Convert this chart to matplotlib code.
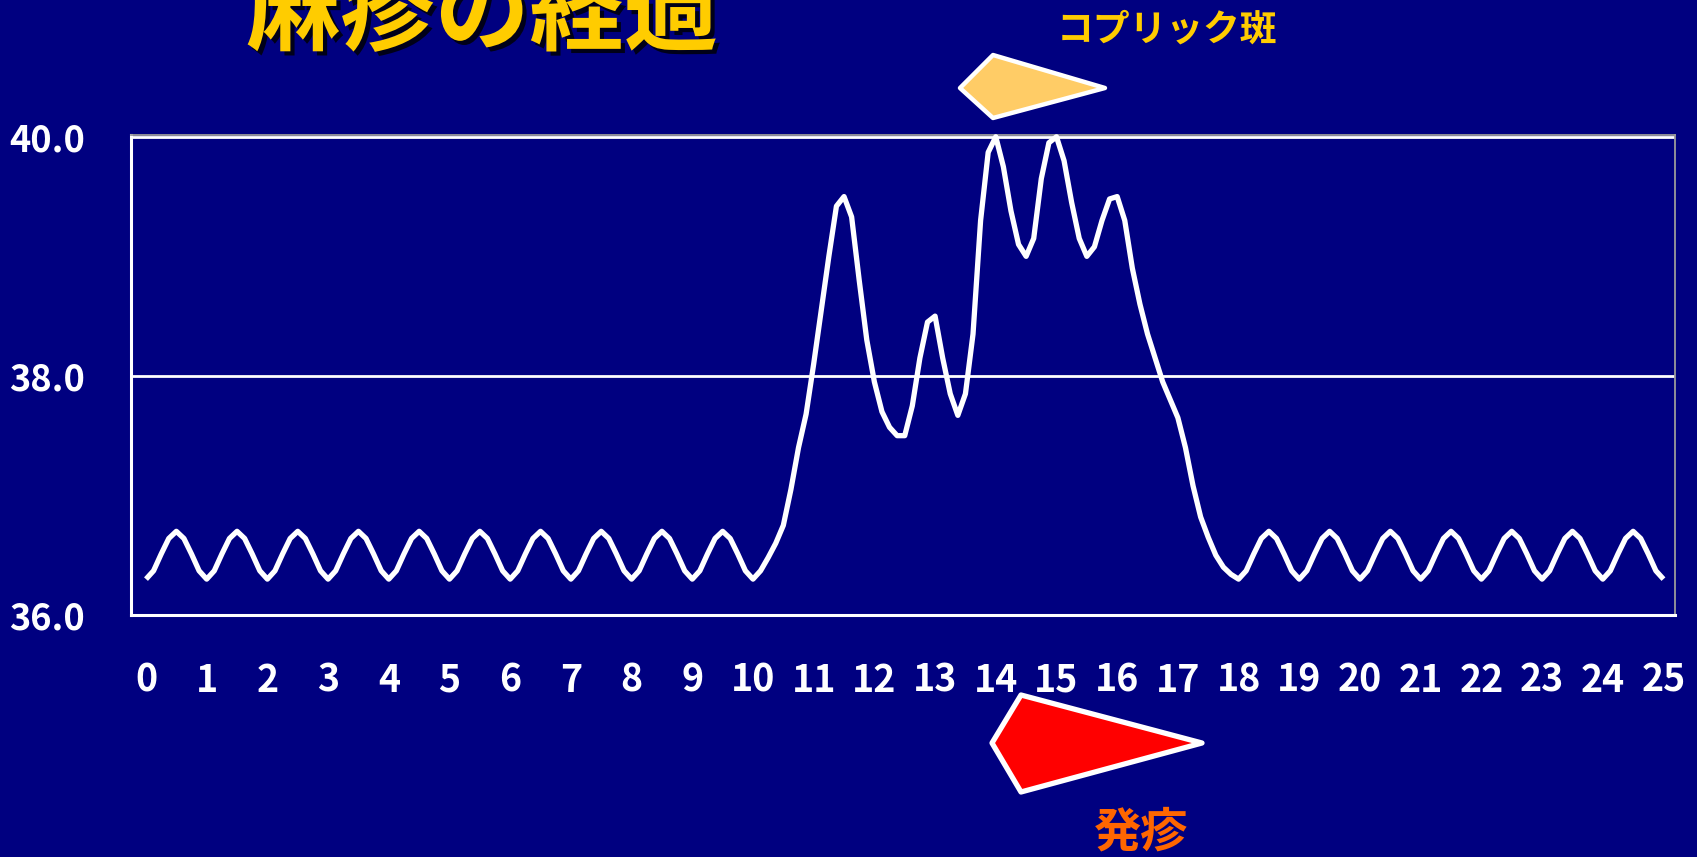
import matplotlib
matplotlib.use('Agg')
import matplotlib.pyplot as plt
import matplotlib.patheffects as pe
from matplotlib.patches import Polygon
from matplotlib.transforms import Affine2D
import numpy as np

plt.rcParams['font.family'] = ['Noto Sans CJK JP', 'DejaVu Sans']

W, H = 1697, 857
NAVY = '#000080'

# 体温の推移: 1日8回 (3時間ごと) の測定値, 0日目〜24日目
TEMPS_BY_DAY = [
    [36.30, 36.37, 36.51, 36.64, 36.70, 36.64, 36.51, 36.37],  # 0
    [36.30, 36.37, 36.51, 36.64, 36.70, 36.64, 36.51, 36.37],  # 1
    [36.30, 36.37, 36.51, 36.64, 36.70, 36.64, 36.51, 36.37],  # 2
    [36.30, 36.37, 36.51, 36.64, 36.70, 36.64, 36.51, 36.37],  # 3
    [36.30, 36.37, 36.51, 36.64, 36.70, 36.64, 36.51, 36.37],  # 4
    [36.30, 36.37, 36.51, 36.64, 36.70, 36.64, 36.51, 36.37],  # 5
    [36.30, 36.37, 36.51, 36.64, 36.70, 36.64, 36.51, 36.37],  # 6
    [36.30, 36.37, 36.51, 36.64, 36.70, 36.64, 36.51, 36.37],  # 7
    [36.30, 36.37, 36.51, 36.64, 36.70, 36.64, 36.51, 36.37],  # 8
    [36.30, 36.37, 36.51, 36.64, 36.70, 36.64, 36.51, 36.37],  # 9
    [36.30, 36.37, 36.48, 36.60, 36.75, 37.05, 37.40, 37.68],  # 10
    [38.10, 38.55, 39.00, 39.42, 39.50, 39.33, 38.80, 38.30],  # 11
    [37.95, 37.70, 37.57, 37.50, 37.50, 37.75, 38.15, 38.45],  # 12
    [38.50, 38.15, 37.85, 37.67, 37.85, 38.35, 39.30, 39.87],  # 13
    [40.00, 39.75, 39.38, 39.10, 39.00, 39.15, 39.65, 39.95],  # 14
    [40.00, 39.80, 39.45, 39.15, 39.00, 39.08, 39.30, 39.48],  # 15
    [39.50, 39.30, 38.90, 38.60, 38.35, 38.15, 37.95, 37.80],  # 16
    [37.65, 37.40, 37.08, 36.82, 36.65, 36.50, 36.40, 36.34],  # 17
    [36.30, 36.37, 36.51, 36.64, 36.70, 36.64, 36.51, 36.37],  # 18
    [36.30, 36.37, 36.51, 36.64, 36.70, 36.64, 36.51, 36.37],  # 19
    [36.30, 36.37, 36.51, 36.64, 36.70, 36.64, 36.51, 36.37],  # 20
    [36.30, 36.37, 36.51, 36.64, 36.70, 36.64, 36.51, 36.37],  # 21
    [36.30, 36.37, 36.51, 36.64, 36.70, 36.64, 36.51, 36.37],  # 22
    [36.30, 36.37, 36.51, 36.64, 36.70, 36.64, 36.51, 36.37],  # 23
    [36.30, 36.37, 36.51, 36.64, 36.70, 36.64, 36.51, 36.37],  # 24
]
LAST_TEMP = 36.30  # 25日目

Y_TICKS = [36.0, 38.0, 40.0]
X_TICKS = list(range(26))

temps = [t for day in TEMPS_BY_DAY for t in day] + [LAST_TEMP]
days = np.arange(len(temps)) / 8

fig = plt.figure(figsize=(W / 100, H / 100), dpi=100, facecolor=NAVY)
# pixel coords measured from the top-left corner
px = Affine2D().scale(1 / W, -1 / H).translate(0, 1) + fig.transFigure

ax = fig.add_axes([131 / W, (H - 615) / H, (1675 - 131) / W, (615 - 135) / H])
ax.set_facecolor(NAVY)

for y in Y_TICKS[1:]:
    ax.axhline(y, color='white', lw=2.0, zorder=1)

ax.plot(days, temps, color='white', lw=3.8, solid_joinstyle='round',
        solid_capstyle='butt', clip_on=False, zorder=3)

ax.set_xlim(-0.247, 25.19)
ax.set_ylim(36.0, 40.015)

for s in ('left', 'bottom'):
    ax.spines[s].set_color('white')
    ax.spines[s].set_linewidth(2.2)
for s in ('top', 'right'):
    ax.spines[s].set_color('#9a9a9a')
    ax.spines[s].set_linewidth(1.3)

ax.set_yticks(Y_TICKS)
ax.set_yticklabels([f'{v:.1f}' for v in Y_TICKS], fontsize=26,
                   fontweight='bold', color='white')
ax.set_xticks(X_TICKS)
ax.set_xticklabels([str(v) for v in X_TICKS], fontsize=27,
                   fontweight='bold', color='white')
ax.tick_params(axis='y', length=0, pad=33)
ax.tick_params(axis='x', length=0, pad=33)

# タイトル
fig.text(246, 43, '麻疹の経過', transform=px, fontsize=68, fontweight='bold',
         color='#FFCC00', ha='left', va='baseline',
         path_effects=[pe.SimplePatchShadow(offset=(3, -3), shadow_rgbFace='black',
                                            alpha=0.8), pe.Normal()])

# コプリック斑の矢印
fig.add_artist(Polygon([(993, 55), (960, 88), (993, 118), (1105, 88)],
                       closed=True, transform=px, facecolor='#FFCC66',
                       edgecolor='white', lw=3.2, joinstyle='round'))
fig.text(1167, 30, 'コプリック斑', transform=px, fontsize=26.5, fontweight='bold',
         color='#FFCC00', ha='center', va='center')

# 発疹の矢印
fig.add_artist(Polygon([(1021, 695), (992, 743), (1021, 792), (1202, 743)],
                       closed=True, transform=px, facecolor='#FF0000',
                       edgecolor='white', lw=3.8, joinstyle='round'))
fig.text(1141, 832, '発疹', transform=px, fontsize=34, fontweight='bold',
         color='#FF6600', ha='center', va='center')

fig.savefig('out.png', dpi=100, facecolor=NAVY)
